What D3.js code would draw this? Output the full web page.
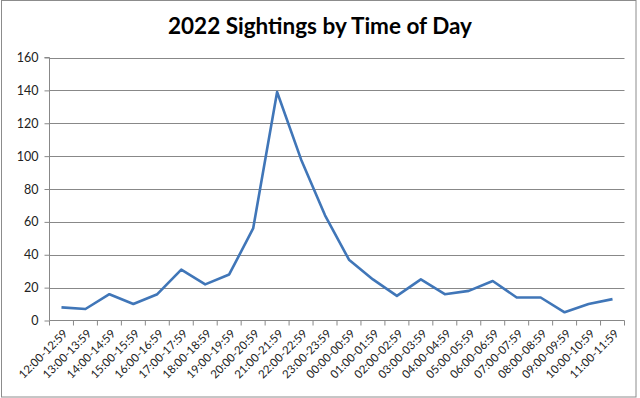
<!DOCTYPE html>
<html><head><meta charset="utf-8">
<script src="https://cdn.jsdelivr.net/npm/d3@7"></script>
<style>body{margin:0;background:#fff}svg{display:block}</style>
</head><body>
<svg id="c" width="640" height="398"></svg>
<script>
const categories = ["12:00-12:59","13:00-13:59","14:00-14:59","15:00-15:59","16:00-16:59","17:00-17:59","18:00-18:59","19:00-19:59","20:00-20:59","21:00-21:59","22:00-22:59","23:00-23:59","00:00-00:59","01:00-01:59","02:00-02:59","03:00-03:59","04:00-04:59","05:00-05:59","06:00-06:59","07:00-07:59","08:00-08:59","09:00-09:59","10:00-10:59","11:00-11:59"];
const sightings = [8,7,16,10,16,31,22,28,56,139,98,64,37,25,15,25,16,18,24,14,14,5,10,13];
const yTicks = [0,20,40,60,80,100,120,140,160];
const title = "2022 Sightings by Time of Day";

const svg = d3.select("#c");
const font = "Lato, 'Open Sans', sans-serif";
svg.append("rect").attr("x",1.5).attr("y",0.5).attr("width",634.5).attr("height",396.5)
  .attr("fill","#fff").attr("stroke","#8c8c8c").attr("stroke-width",1);

const x0 = 49.5, x1 = 624.5, yTop = 57.5, yBot = 320.5;
const x = d3.scaleBand().domain(categories).range([x0, x1]).padding(0);
const y = d3.scaleLinear().domain([0,160]).range([yBot, yTop]);

// gridlines
svg.append("g").selectAll("line").data(yTicks.filter(d=>d>0)).join("line")
  .attr("x1",x0).attr("x2",x1).attr("y1",d=>Math.round(y(d))+0.5).attr("y2",d=>Math.round(y(d))+0.5)
  .attr("stroke","#888").attr("stroke-width",1);

// y axis
const yAxis = d3.axisLeft(y).tickValues(yTicks).tickSize(5).tickPadding(6);
const gy = svg.append("g").attr("transform",`translate(${x0},0)`).call(yAxis);
gy.select(".domain").attr("stroke","#888").attr("d",`M-5,${yTop}H0V${yBot}`);
gy.selectAll(".tick line").attr("stroke","#888");
gy.selectAll(".tick text").attr("font-family",font).attr("font-size",12.5).attr("fill","#222");

// x axis line and ticks at band boundaries
svg.append("line").attr("x1",x0).attr("x2",x1).attr("y1",yBot).attr("y2",yBot).attr("stroke","#888");
const bounds = categories.map(c=>x(c)).concat([x1]);
svg.append("g").selectAll("line").data(bounds).join("line")
  .attr("x1",d=>d).attr("x2",d=>d).attr("y1",yBot).attr("y2",yBot+5).attr("stroke","#888");

// x labels
svg.append("g").selectAll("text").data(categories).join("text")
  .attr("transform",d=>`translate(${x(d)+x.bandwidth()/2+4},${yBot+11}) rotate(-45)`)
  .attr("text-anchor","end").attr("dy","0.35em")
  .attr("font-family",font).attr("font-size",11.5).attr("fill","#222")
  .text(d=>d);

// line
const line = d3.line().x((d,i)=>x(categories[i])+x.bandwidth()/2).y(d=>y(d));
svg.append("path").datum(sightings).attr("d",line).attr("fill","none")
  .attr("stroke","#4076b8").attr("stroke-width",2.6).attr("stroke-linejoin","round");

// title
svg.append("text").attr("x",320).attr("y",34).attr("text-anchor","middle")
  .attr("font-family",font).attr("font-weight","bold").attr("font-size",22.5).attr("fill","#000")
  .text(title);
</script>
</body></html>
